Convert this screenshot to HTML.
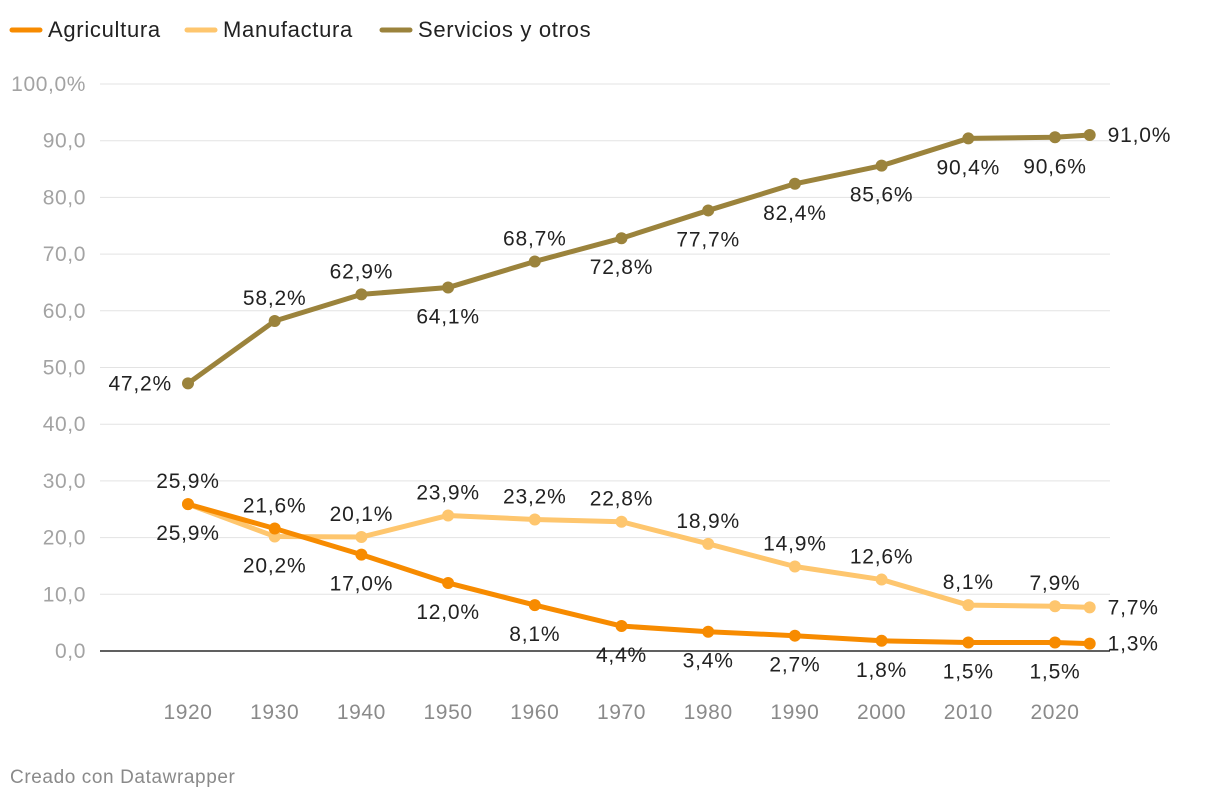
<!DOCTYPE html>
<html><head><meta charset="utf-8">
<style>
body{margin:0;background:#fff;font-family:"Liberation Sans",Arial,sans-serif;}
svg{display:block}
</style></head>
<body>
<svg id="chart" width="1220" height="800"></svg>
<script>
const years=[1920,1930,1940,1950,1960,1970,1980,1990,2000,2010,2020,2024];
const agricultura=[25.9,21.6,17.0,12.0,8.1,4.4,3.4,2.7,1.8,1.5,1.5,1.3];
const manufactura=[25.9,20.2,20.1,23.9,23.2,22.8,18.9,14.9,12.6,8.1,7.9,7.7];
const servicios=[47.2,58.2,62.9,64.1,68.7,72.8,77.7,82.4,85.6,90.4,90.6,91.0];
const agriPlace=['b','a','b','b','b','b','b','b','b','b','b','r'];
const manuPlace=['a','b','a','a','a','a','a','a','a','a','a','r'];
const servPlace=['l','a','a','b','a','b','b','b','b','b','b','r'];
const yTicks=[0,10,20,30,40,50,60,70,80,90,100];
const xTicks=[1920,1930,1940,1950,1960,1970,1980,1990,2000,2010,2020];

const NS='http://www.w3.org/2000/svg';
const svg=document.getElementById('chart');
const x=v=>188+(v-1920)*8.67;
const y=v=>651-v*5.67;
function mk(tag,attrs,txt){const e=document.createElementNS(NS,tag);for(const k in attrs)e.setAttribute(k,attrs[k]);if(txt!=null)e.textContent=txt;svg.appendChild(e);return e;}
const fmt=v=>v.toFixed(1).replace('.',',');

yTicks.forEach(t=>{
  const l=mk('line',{x1:100,x2:1110,y1:y(t),y2:y(t),stroke:t===0?'#000':'#e3e3e3','stroke-width':t===0?1.3:1});
  
  
  const tx=mk('text',{x:86,y:y(t)+7,'text-anchor':'end','font-size':21,'letter-spacing':0.6,fill:'#a3a3a3'},t===100?'100,0%':fmt(t));
  
  
});
xTicks.forEach(t=>{
  const tx=mk('text',{x:x(t),y:719,'text-anchor':'middle','font-size':21,'letter-spacing':0.6,fill:'#8a8a8a'},String(t));
  
  
});

function series(vals,place,color,name){
  const pts=vals.map((v,i)=>x(years[i])+','+y(v)).join(' ');
  const pl=mk('polyline',{points:pts,fill:'none',stroke:color,'stroke-width':5,'stroke-linejoin':'round','stroke-linecap':'round'});
  
  
  vals.forEach((v,i)=>{
    const c=mk('circle',{cx:x(years[i]),cy:y(v),r:6,fill:color});
    
    
    const p=place[i];let tx=x(years[i]),ty=y(v),anc='middle';
    if(p==='a')ty-=16;else if(p==='b')ty+=36;else if(p==='l'){tx-=16;ty+=7;anc='end';}else{tx+=18;ty+=7;anc='start';}
    const t=mk('text',{x:tx,y:ty,'text-anchor':anc,'font-size':21,'letter-spacing':0.8,fill:'#222'},fmt(v)+'%');
    
    
  });
}
series(servicios,servPlace,'#9b833c','servicios');
series(manufactura,manuPlace,'#fec66e','manufactura');
series(agricultura,agriPlace,'#f78b00','agricultura');

const legend=[['Agricultura','#f78b00',10],['Manufactura','#fec66e',185],['Servicios y otros','#9b833c',380]];
legend.forEach(([n,c,lx])=>{
  const l=mk('line',{x1:lx+2,x2:lx+30,y1:30,y2:30,stroke:c,'stroke-width':5,'stroke-linecap':'round'});
  
  
  const t=mk('text',{x:lx+38,y:37,'font-size':22,'letter-spacing':0.7,fill:'#222'},n);
  
  
});
const f=mk('text',{x:10,y:783,'font-size':19,'letter-spacing':0.6,fill:'#8a8a8a'},'Creado con Datawrapper');


</script>
</body></html>
